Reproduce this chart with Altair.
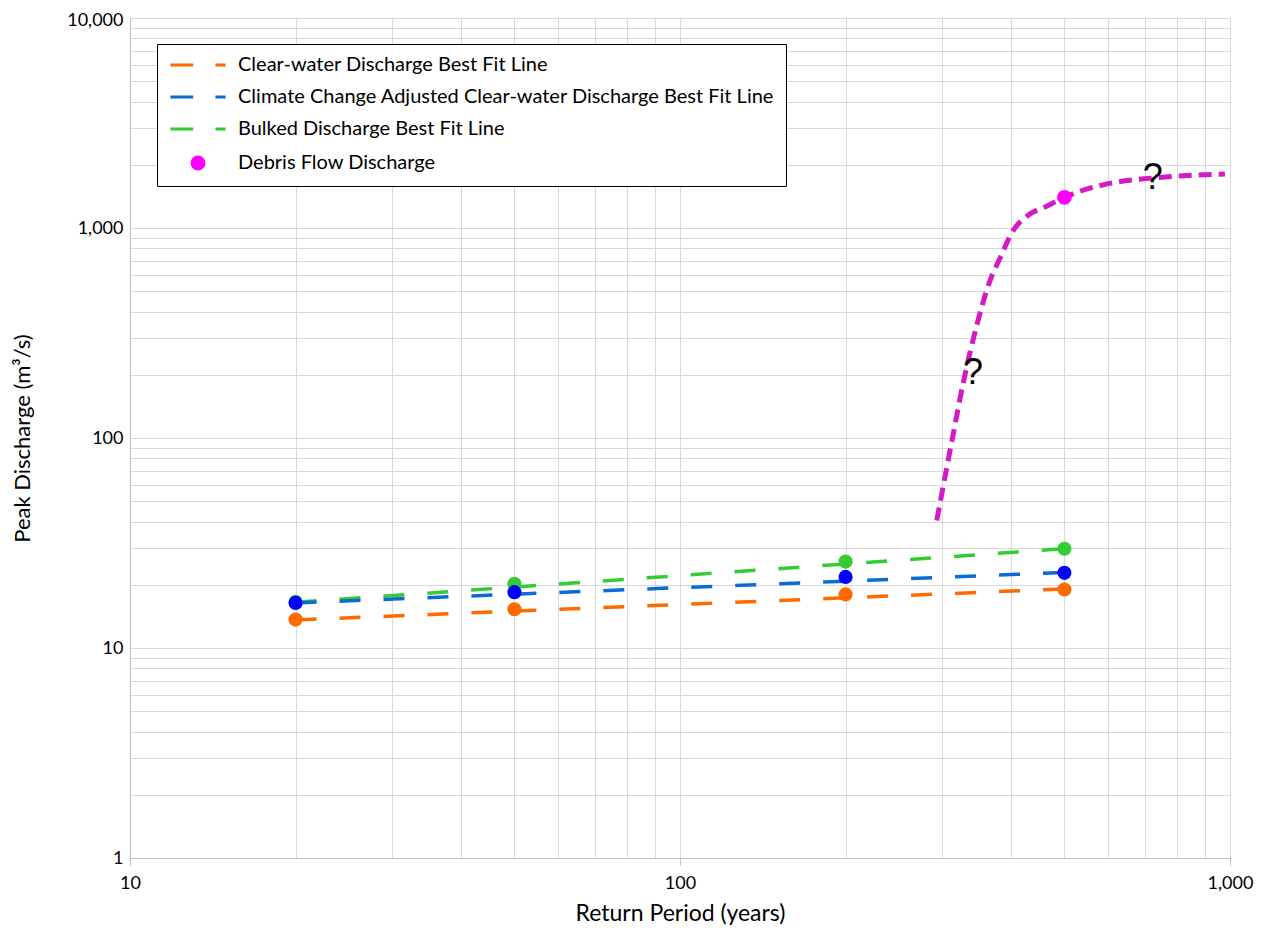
import altair as alt
import pandas as pd

# ---------------- data ----------------
return_periods = [20, 50, 200, 500]
clear_water = [13.65, 15.3, 18.0, 19.0]
climate_adjusted = [16.4, 18.45, 21.8, 22.8]
bulked = [16.6, 20.2, 25.8, 29.7]

fit_x = [20, 500]
clear_fit = [13.6, 19.1]
climate_fit = [16.4, 22.9]
bulked_fit = [16.5, 29.7]

debris_x = [500]
debris_y = [1400]

curve_x = [293, 314, 327, 347, 366, 382, 403, 428, 465, 500, 598, 724, 979]
curve_y = [40.5, 105, 181, 350, 560, 721, 969, 1142, 1274, 1400, 1622, 1730, 1808]

question_marks = ["?", "?"]
question_x = [341, 724]
question_y = [205, 1730]

x_grid = [10, 20, 30, 40, 50, 60, 70, 80, 90,
          100, 200, 300, 400, 500, 600, 700, 800, 900, 1000]
y_grid = [1, 2, 3, 4, 5, 6, 7, 8, 9,
          10, 20, 30, 40, 50, 60, 70, 80, 90,
          100, 200, 300, 400, 500, 600, 700, 800, 900,
          1000, 2000, 3000, 4000, 5000, 6000, 7000, 8000, 9000, 10000]

legend_names = [
    "Clear-water Discharge Best Fit Line",
    "Climate Change Adjusted Clear-water Discharge Best Fit Line",
    "Bulked Discharge Best Fit Line",
    "Debris Flow Discharge",
]
point_names = ["Clear-water", "Climate Adjusted", "Bulked"]

ORANGE = "#FF6A00"
BLUE_LINE = "#0A6BD5"
BLUE_PT = "#0000FF"
GREEN = "#33CC33"
MAGENTA = "#FF00FF"
CURVE = "#D41AC5"
legend_colors = [ORANGE, BLUE_LINE, GREEN, MAGENTA]

FONT = "Lato"

# ---------------- tables ----------------
clear_fit_df = pd.DataFrame({"x": fit_x, "y": clear_fit})
climate_fit_df = pd.DataFrame({"x": fit_x, "y": climate_fit})
bulked_fit_df = pd.DataFrame({"x": fit_x, "y": bulked_fit})
pts_df = pd.DataFrame({
    "x": return_periods * 3,
    "y": bulked + clear_water + climate_adjusted,
    "series": [point_names[2]] * 4 + [point_names[0]] * 4 + [point_names[1]] * 4,
})
curve_df = pd.DataFrame({"x": curve_x, "y": curve_y})
debris_df = pd.DataFrame({"x": debris_x, "y": debris_y, "series": [legend_names[3]]})
q_df = pd.DataFrame({"x": question_x, "y": question_y, "t": question_marks})

MAJOR_X = "indexof([10, 100, 1000], datum.value) >= 0"
MAJOR_Y = "indexof([1, 10, 100, 1000, 10000], datum.value) >= 0"

x_scale = alt.Scale(type="log", domain=[10, 1000], nice=False)
y_scale = alt.Scale(type="log", domain=[1, 10000], nice=False)

x_axis = alt.Axis(
    values=x_grid, grid=True, gridColor="#d9d9d9", gridWidth=1,
    domainColor="#bfbfbf", tickColor="#bfbfbf", tickSize=7,
    tickOpacity={"condition": {"test": MAJOR_X, "value": 1}, "value": 0},
    labelExpr=f"{MAJOR_X} ? format(datum.value, ',') : ''",
    labelOverlap=False, labelFlush=False, labelFont=FONT, labelFontSize=18,
    labelColor="#000000", labelPadding=9,
    title="Return Period (years)", titleFont=FONT, titleFontSize=23,
    titleFontWeight="normal", titleColor="#000000",
    titleX=550, titleY=55, titleBaseline="middle", titleAlign="center",
)
y_axis = alt.Axis(
    values=y_grid, grid=True, gridColor="#d9d9d9", gridWidth=1,
    domainColor="#bfbfbf", ticks=False,
    labelExpr=f"{MAJOR_Y} ? format(datum.value, ',') : ''",
    labelOverlap=False, labelFlush=False, labelFont=FONT, labelFontSize=18,
    labelColor="#000000", labelPadding=7,
    labelOffset={"condition": {"test": "datum.value == 10000", "value": 2}, "value": 0},
    title="Peak Discharge (m³/s)", titleFont=FONT, titleFontSize=22,
    titleFontWeight="normal", titleColor="#000000", titleAngle=270,
    titleX=-108, titleY=420, titleBaseline="middle", titleAlign="center",
)

X = alt.X("x:Q", scale=x_scale, axis=x_axis)
Y = alt.Y("y:Q", scale=y_scale, axis=y_axis)


def fit_line(df, colour):
    return alt.Chart(df).mark_line(
        color=colour, strokeWidth=3.5, strokeDash=[21, 23]
    ).encode(x=X, y=Y)


fit_clear = fit_line(clear_fit_df, ORANGE)
fit_bulked = fit_line(bulked_fit_df, GREEN)
fit_climate = fit_line(climate_fit_df, BLUE_LINE)

curve = alt.Chart(curve_df).mark_line(
    color=CURVE, strokeWidth=5, strokeDash=[13, 7], interpolate="monotone"
).encode(x=X, y=Y)

points = alt.Chart(pts_df).mark_circle(size=200, opacity=1).encode(
    x=X, y=Y,
    fill=alt.Fill("series:N", scale=alt.Scale(domain=point_names, range=[ORANGE, BLUE_PT, GREEN]), legend=None),
)

DASH = "M-4.6,0H-0.8M2.9,0H4.6"
legend = alt.Legend(
    title=None, orient="none", legendX=27, legendY=26, direction="vertical",
    padding=11, fillColor="white", strokeColor="black", cornerRadius=0,
    labelFont=FONT, labelFontSize=20, labelColor="#000000", labelLimit=900,
    symbolSize=144, symbolStrokeWidth=3, symbolOpacity=1,
    symbolOffset=20, labelOffset=30, rowPadding=12,
)
debris = alt.Chart(debris_df).mark_point(filled=True, size=140, opacity=1, strokeWidth=3).encode(
    x=X, y=Y,
    color=alt.Color("series:N", scale=alt.Scale(domain=legend_names, range=legend_colors), legend=legend),
    stroke=alt.Stroke("series:N", scale=alt.Scale(domain=legend_names, range=legend_colors), legend=legend),
    shape=alt.Shape("series:N", scale=alt.Scale(domain=legend_names,
                                                range=[DASH, DASH, DASH, "circle"]), legend=legend),
)

qtext = alt.Chart(q_df).mark_text(
    font="Liberation Sans", fontSize=36, color="#000000", baseline="middle", align="center"
).encode(x=X, y=Y, text="t:N")

chart = alt.layer(fit_clear, fit_bulked, fit_climate, curve, points, debris, qtext).properties(
    width=1100, height=840,
    padding={"left": 122, "top": 10, "right": 45, "bottom": 70},
    autosize="none",
).configure_view(strokeWidth=0).configure(background="white")

chart.save("out.html", embed_options={"renderer": "svg", "actions": False})
